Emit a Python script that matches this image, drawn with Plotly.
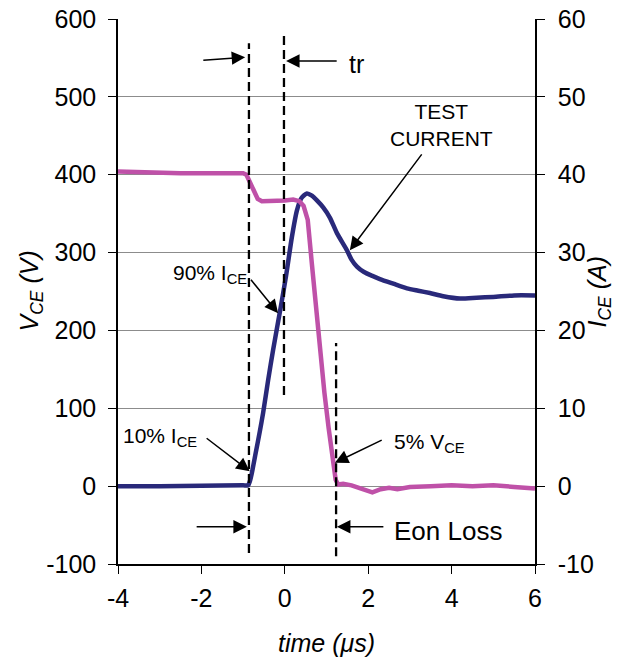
import plotly.graph_objects as go

# V_CE trace (pink), time in us, volts
time_v = [-4.0, -3.5, -3.0, -2.5, -2.0, -1.5, -1.0, -0.92, -0.85, -0.75, -0.65, -0.55,
          -0.4, -0.2, 0.0, 0.2, 0.35, 0.45, 0.55, 0.65, 0.75, 0.85, 0.95, 1.05, 1.15,
          1.22, 1.28, 1.4, 1.6, 1.8, 2.0, 2.1, 2.3, 2.5, 2.7, 3.0, 3.5, 4.0, 4.5, 5.0,
          5.5, 6.0]
vce = [404, 403, 403, 402, 402, 402, 402, 400, 392, 378, 369, 366,
       366, 367, 367, 368, 366, 360, 342, 285, 228, 172, 120, 75, 32,
       8, 2, 3, 1, -3, -7, -8, -4, -2, -4, -1, 0, 1, 0, 1,
       -1, -3]

# I_CE trace (navy), amps
time_i = [-4.0, -3.0, -2.0, -1.0, -0.88, -0.84, -0.79, -0.7, -0.6, -0.52, -0.4, -0.28,
          -0.11, 0.03, 0.17, 0.29, 0.4, 0.53, 0.65, 0.77, 0.92, 1.08, 1.25, 1.49, 1.6,
          1.73, 1.9, 2.1, 2.28, 2.6, 2.93, 3.2, 3.48, 3.8, 4.2, 4.6, 5.0, 5.5, 6.0]
ice = [0.0, 0.0, 0.05, 0.1, 0.1, 0.6, 1.7, 4.2, 7.0, 9.4, 13.6, 17.5,
       22.6, 27.0, 32.0, 35.4, 37.0, 37.6, 37.3, 36.7, 35.8, 34.5, 32.5, 30.3, 29.1,
       28.2, 27.5, 27.0, 26.6, 26.0, 25.4, 25.1, 24.8, 24.4, 24.1, 24.2, 24.3, 24.5, 24.5]

x_ticks = [-4, -2, 0, 2, 4, 6]
x_labels = ["-4", "-2", "0", "2", "4", "6"]
v_ticks = [-100, 0, 100, 200, 300, 400, 500, 600]
v_labels = ["-100", "0", "100", "200", "300", "400", "500", "600"]
i_ticks = [-10, 0, 10, 20, 30, 40, 50, 60]
i_labels = ["-10", "0", "10", "20", "30", "40", "50", "60"]

# dashed timing markers
marker_t = [-0.86, -0.02, 1.23]
marker_top = [569, 579, 184]
marker_bottom = [-86, 117, -90]

# arrows (head -> tail), in time / volt units
arrow_head_t = [-0.95, 0.03, 1.56, -0.16, -0.84, 1.20, -0.91, 1.25]
arrow_head_v = [551, 546, 303, 222, 19, 30, -52, -52]
arrow_tail_t = [-1.99, 1.28, 3.31, -0.84, -1.91, 2.36, -2.15, 2.40]
arrow_tail_v = [547, 546, 428, 267, 63, 60, -52, -52]

# text labels
label_text = ["tr", "TEST<br>CURRENT", "90% I<sub>CE</sub>", "10% I<sub>CE</sub>",
              "5% V<sub>CE</sub>", "Eon Loss"]
label_t = [1.50, 3.75, -2.73, -3.93, 2.58, 2.58]
label_v = [542, 464, 272, 63, 55, -57]
label_size = [25, 21, 21, 21, 21, 26]
label_anchor = ["left", "center", "left", "left", "left", "left"]

PINK = "#BF51A8"
NAVY = "#29297A"
FONT = "Liberation Sans, Arial, sans-serif"

fig = go.Figure()
fig.add_trace(go.Scatter(x=time_i, y=ice, mode="lines", yaxis="y",
                         line=dict(color=NAVY, width=4.5, shape="spline", smoothing=0.6),
                         showlegend=False))
fig.add_trace(go.Scatter(x=time_v, y=vce, mode="lines", yaxis="y2",
                         line=dict(color=PINK, width=4.5), showlegend=False))

for t, top, bot in zip(marker_t, marker_top, marker_bottom):
    fig.add_shape(type="line", xref="x", yref="y2", x0=t, x1=t, y0=bot, y1=top,
                  line=dict(color="black", width=2.3, dash="9px,5px"))

annotations = []
for ht, hv, tt, tv in zip(arrow_head_t, arrow_head_v, arrow_tail_t, arrow_tail_v):
    annotations.append(dict(x=ht, y=hv, ax=tt, ay=tv, xref="x", yref="y2",
                            axref="x", ayref="y2", text="", showarrow=True,
                            arrowhead=2, arrowsize=1.8, arrowwidth=1.5,
                            arrowcolor="black"))
for txt, t, v, s, a in zip(label_text, label_t, label_v, label_size, label_anchor):
    annotations.append(dict(x=t, y=v, xref="x", yref="y2", text=txt, showarrow=False,
                            xanchor=a, yanchor="middle",
                            font=dict(size=s, color="black", family=FONT)))

# axis titles
annotations.append(dict(x=0, y=0.5, xref="paper", yref="paper", xshift=-88,
                        text="<i>V<sub>CE</sub> (V)</i>", textangle=-90, showarrow=False,
                        xanchor="center", yanchor="middle",
                        font=dict(size=25, color="black", family=FONT)))
annotations.append(dict(x=1, y=0.5, xref="paper", yref="paper", xshift=63,
                        text="<i>I<sub>CE</sub> (A)</i>", textangle=-90, showarrow=False,
                        xanchor="center", yanchor="middle",
                        font=dict(size=25, color="black", family=FONT)))
annotations.append(dict(x=0.5, y=0, xref="paper", yref="paper", yshift=-79,
                        text="<i>time (μs)</i>", showarrow=False,
                        xanchor="center", yanchor="middle",
                        font=dict(size=25, color="black", family=FONT)))

fig.update_layout(
    width=626, height=662,
    margin=dict(l=118, r=91, t=19, b=98),
    paper_bgcolor="white", plot_bgcolor="white",
    font=dict(family=FONT, size=25, color="black"),
    annotations=annotations,
    xaxis=dict(range=[-4, 6], tickvals=x_ticks, ticktext=x_labels, ticks="outside",
               ticklen=8, tickcolor="black", showline=True, linecolor="black",
               linewidth=1.5, showgrid=False, zeroline=False, ticklabelstandoff=3,
               automargin=False),
    yaxis=dict(range=[-10, 60], tickvals=i_ticks, ticktext=i_labels, side="right",
               ticks="outside", ticklen=8, tickcolor="black", showline=True,
               linecolor="black", linewidth=1.5, showgrid=True, gridcolor="#8C8C8C",
               gridwidth=1, zeroline=False, ticklabelstandoff=8, automargin=False),
    yaxis2=dict(range=[-100, 600], tickvals=v_ticks, ticktext=v_labels, side="left",
                overlaying="y", ticks="outside", ticklen=8, tickcolor="black",
                showline=True, linecolor="black", linewidth=1.5, showgrid=False,
                zeroline=False, ticklabelstandoff=7, automargin=False),
)

# drop the default 8px body margin so the figure sits at the window origin
fig.write_html("out.html", config={"displayModeBar": False},
               post_script="document.body.style.margin='0px';")
